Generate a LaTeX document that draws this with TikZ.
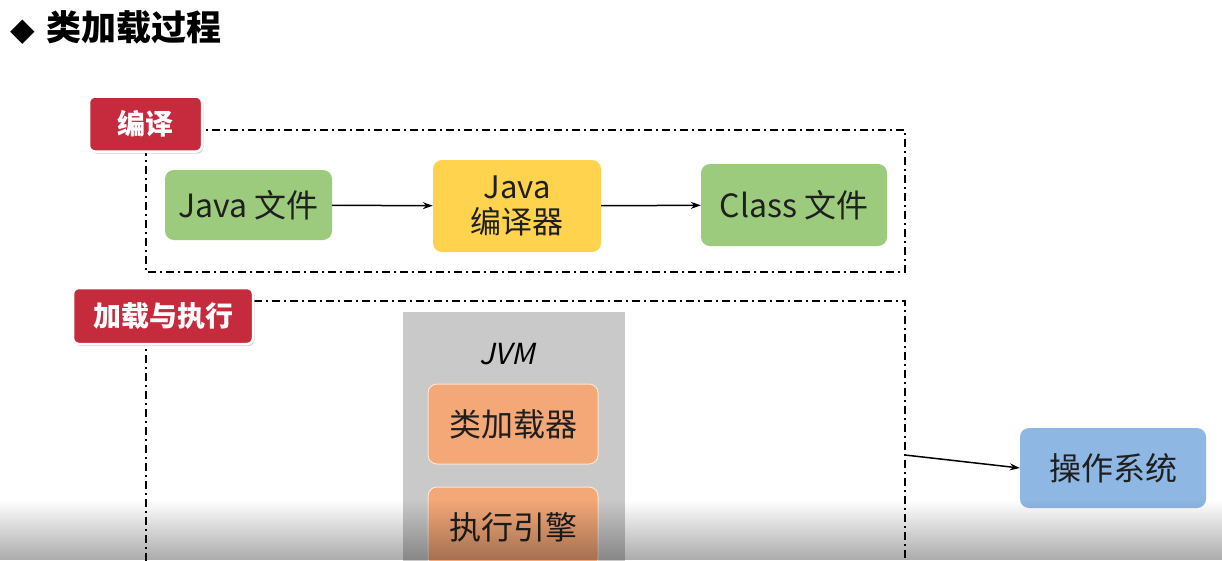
\documentclass[tikz,border=0pt]{standalone}
\usepackage{fontspec}
\setmainfont{Noto Sans CJK SC}
\newfontfamily\djv{DejaVu Sans}
\newfontfamily\slantfont[FakeSlant=0.22]{Noto Sans CJK SC}
\usetikzlibrary{shadows,fadings,arrows.meta}
\definecolor{cgreen}{HTML}{9DCB7D}
\definecolor{cyellow}{HTML}{FFD34E}
\definecolor{corange}{HTML}{F4A878}
\definecolor{cblue}{HTML}{8FB7E3}
\definecolor{cred}{HTML}{C52A3D}
\definecolor{cgray}{HTML}{C9C9C9}
\tikzset{
  box/.style={rounded corners=9pt, inner sep=0pt, align=center, font=\fontsize{32}{36}\selectfont, text=black!88},
  tagbox/.style={rounded corners=6pt, fill=cred, draw=white, line width=2.5pt, inner sep=0pt,
     text=white, font=\fontsize{28}{30}\selectfont\bfseries,
     drop shadow={shadow xshift=1.5pt, shadow yshift=-2pt, opacity=0.35}},
  dashdot/.style={line width=1.6pt, dash pattern=on 8pt off 4pt on 2pt off 4pt},
  conn/.style={line width=1.5pt, -{Stealth[length=10pt,width=7pt]}},
}
\begin{document}
\begin{tikzpicture}[x=1pt,y=-1pt]
\useasboundingbox (0,0) rectangle (1222,560);
\clip (0,0) rectangle (1222,560);
\fill[white] (0,0) rectangle (1222,560);
% title
\node[anchor=west, inner sep=0pt, font=\fontsize{35}{38}\selectfont\bfseries] (title) at (10,28) {{\djv\fontsize{32}{32}\selectfont ◆}\hspace{12pt}类加载过程};
% frames
\draw[dashdot] (146,130) rectangle (905,272);
\draw[dashdot] (146,301) -- (905,301) -- (905,600);
\draw[dashdot] (146,301) -- (146,600);
% tags
\node[tagbox, minimum width=113pt, minimum height=55pt] (tag1) at (145.5,124) {编译};
\node[tagbox, minimum width=180pt, minimum height=56pt] (tag2) at (163,316) {加载与执行};
% compile row
\node[box, fill=cgreen, minimum width=167pt, minimum height=70pt] (java) at (248.5,205) {Java 文件};
\node[box, fill=cyellow, minimum width=168pt, minimum height=92pt, font=\fontsize{31}{35}\selectfont] (javac) at (517,206) {Java\\编译器};
\node[box, fill=cgreen, minimum width=186pt, minimum height=82pt] (classf) at (794,205) {Class 文件};
\draw[conn] (java) -- (javac);
\draw[conn] (javac) -- (classf);
% JVM
\node[fill=cgray, minimum width=222pt, minimum height=270pt, inner sep=0pt] (jvm) at (514,447) {};
\node[font=\fontsize{29}{30}\selectfont\slantfont, inner sep=0pt] (jvmlabel) at (507,354) {JVM};
\node[box, fill=corange, draw=white!70!corange, line width=1pt, minimum width=170pt, minimum height=80pt] (loader) at (513,424) {类加载器};
\node[box, fill=corange, draw=white!70!corange, line width=1pt, minimum width=170pt, minimum height=80pt] (engine) at (513,527) {执行引擎};
% OS
\node[box, fill=cblue, minimum width=186pt, minimum height=80pt] (os) at (1113,468) {操作系统};
\coordinate (src) at (905,455);
\draw[conn] (src) -- (os.west);
% bottom video shadow
\fill[black, path fading=north, fill opacity=0.33] (0,500) rectangle (1222,560);
\end{tikzpicture}
\end{document}
